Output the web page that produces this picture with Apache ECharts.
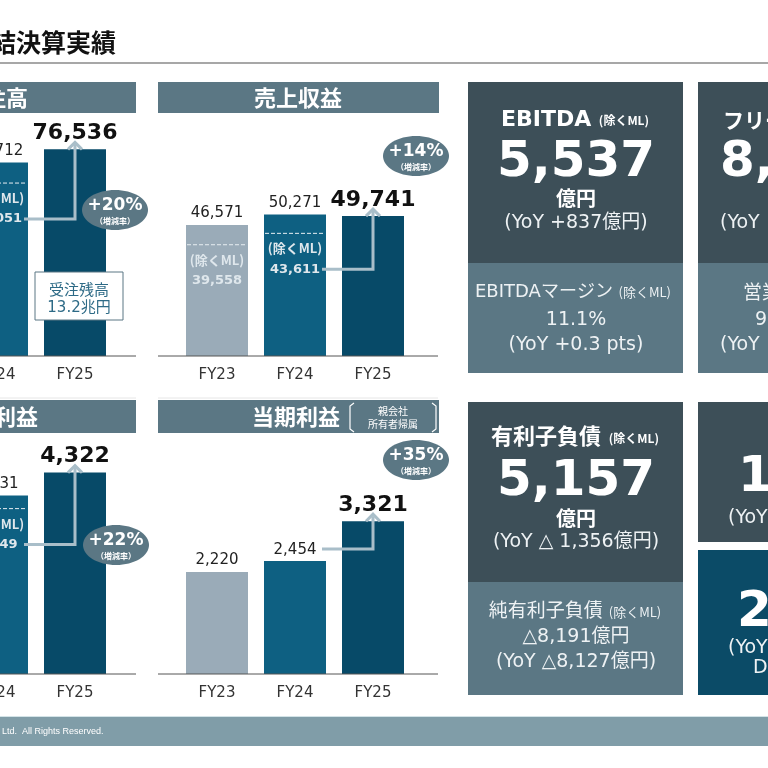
<!DOCTYPE html>
<html><head><meta charset="utf-8">
<script src="https://cdn.jsdelivr.net/npm/echarts@6/dist/echarts.min.js"></script>
<style>html,body{margin:0;padding:0;background:#fff}#c{width:768px;height:768px}</style>
</head><body><div id="c"></div>
<script>
// ---- data ----
const catsFull = ['FY23', 'FY24', 'FY25'];
const catsPart = ['FY24', 'FY25'];
const ordersVal = [71712, 76536];
const ordersExML = [64051, null];
const revenueVal = [46571, 50271, 49741];
const revenueExML = [39558, 43611, null];
const profitVal = [3831, 4322];
const profitExML = [3549, null];
const netVal = [2220, 2454, 3321];
const growthLabels = ['+20%', '+14%', '+22%', '+35%'];
const panelTitles = ['受注高', '売上収益', '事業利益', '当期利益'];
const backlogText = ['受注残高', '13.2兆円'];
const boxEbitda = ['EBITDA', '5,537', '億円', '(YoY +837億円)', 'EBITDAマージン', '11.1%', '(YoY +0.3 pts)'];
const boxDebt = ['有利子負債', '5,157', '億円', '(YoY △ 1,356億円)', '純有利子負債', '△8,191億円', '(YoY △8,127億円)'];

// ---- styles ----
const C = {
  fy23: '#9aabb8', fy24: '#0e6082', fy25: '#074a68',
  header: '#5b7784', dark: '#3d4f58', slate: '#5b7784', teal: '#0b4b67',
  arrow: '#a9bec9', text: '#222', light: '#eef2f4', footer: '#809da8'
};
const LAT = '"DejaVu Sans", "Noto Sans CJK JP", sans-serif';
const CJK = '"Noto Sans CJK JP", "DejaVu Sans", sans-serif';
const fmt = v => v.toLocaleString('en-US');
const barColors3 = [C.fy23, C.fy24, C.fy25];
const barColors2 = [C.fy24, C.fy25];

function barData(vals, colors) {
  return vals.map((v, i) => {
    const last = i === vals.length - 1;
    return {
      value: v, itemStyle: { color: colors[i] },
      label: last ? { fontSize: 22, fontWeight: 'bold', color: '#111', distance: 5 } : { fontSize: 15, color: C.text, distance: 4 }
    };
  });
}
function exData(arr) {
  const out = [];
  arr.forEach((v, i) => { if (v != null) out.push([i, v]); });
  return out;
}
function exItem(params, api) {
  const p = api.coord([api.value(0), api.value(1)]);
  const w = 62;
  return { type: 'group', children: [
    { type: 'line', shape: { x1: p[0] - w / 2 + 1, y1: p[1], x2: p[0] + w / 2 - 1, y2: p[1] },
      style: { stroke: '#e8eef2', lineWidth: 1, lineDash: [4, 2] } },
    { type: 'text', x: p[0], y: p[1] + 15, style: { text: '(除くML)', fill: '#dfe7ec', font: 'bold 13px ' + CJK, align: 'center', verticalAlign: 'middle', textAlign: 'center', textVerticalAlign: 'middle' } },
    { type: 'text', x: p[0], y: p[1] + 36, style: { text: fmt(api.value(1)), fill: '#dfe7ec', font: 'bold 13px ' + LAT, align: 'center', verticalAlign: 'middle', textAlign: 'center', textVerticalAlign: 'middle' } }
  ] };
}
function arrowItem(params, api) {
  const a = api.coord([api.value(0), api.value(1)]);
  const b = api.coord([api.value(2), api.value(3)]);
  const y = a[1] + api.value(4);
  const x0 = a[0] + 27, x1 = b[0], tip = b[1] - 7;
  return { type: 'group', children: [
    { type: 'polyline', shape: { points: [[x0, y], [x1, y], [x1, tip + 2]] }, style: { stroke: C.arrow, lineWidth: 3, fill: null } },
    { type: 'polyline', shape: { points: [[x1 - 7, tip + 7], [x1, tip], [x1 + 7, tip + 7]] }, style: { stroke: C.arrow, lineWidth: 3, fill: null } }
  ] };
}

const grids = [
  { left: -42, top: 113, width: 156, height: 243, outerBoundsMode: 'none', containLabel: false },
  { left: 178, top: 131, width: 234, height: 225, outerBoundsMode: 'none', containLabel: false },
  { left: -42, top: 441, width: 156, height: 233, outerBoundsMode: 'none', containLabel: false },
  { left: 178, top: 444, width: 234, height: 230, outerBoundsMode: 'none', containLabel: false }
];
const yMax = [90000, 80000, 5000, 5000];
const xCats = [catsPart, catsFull, catsPart, catsFull];

const series = [];
const panels = [
  { vals: ordersVal, ex: ordersExML, colors: barColors2, arrow: [0, ordersExML[0], 1, ordersVal[1], 36] },
  { vals: revenueVal, ex: revenueExML, colors: barColors3, arrow: [1, revenueExML[1], 2, revenueVal[2], 36] },
  { vals: profitVal, ex: profitExML, colors: barColors2, arrow: [0, profitExML[0], 1, profitVal[1], 36] },
  { vals: netVal, ex: null, colors: barColors3, arrow: [1, netVal[1], 2, netVal[2], -12] }
];
panels.forEach((p, g) => {
  series.push({ type: 'bar', xAxisIndex: g, yAxisIndex: g, barWidth: 62, data: barData(p.vals, p.colors),
    label: { show: true, position: 'top', fontFamily: LAT, formatter: d => fmt(d.value) }, silent: true, z: 2 });
  if (p.ex) series.push({ type: 'custom', xAxisIndex: g, yAxisIndex: g, data: exData(p.ex), renderItem: exItem, z: 3, silent: true });
  series.push({ type: 'custom', xAxisIndex: g, yAxisIndex: g, data: [p.arrow], renderItem: arrowItem, z: 4, silent: true });
});

function T(x, y, text, size, color, weight, align, fam) {
  return { type: 'text', x, y, z: 20, style: { text, fill: color, font: (weight || 'normal') + ' ' + size + 'px ' + (fam || LAT),
    align: align || 'center', verticalAlign: 'middle', textAlign: align || 'center', textVerticalAlign: 'middle' } };
}
function R(x, y, w, h, fill, stroke) {
  return { type: 'rect', z: 1, shape: { x, y, width: w, height: h }, style: { fill, stroke: stroke || null, lineWidth: stroke ? 1 : 0 } };
}
function L(x1, y1, x2, y2, color, w) {
  return { type: 'line', z: 5, shape: { x1, y1, x2, y2 }, style: { stroke: color, lineWidth: w || 1 } };
}
function badge(cx, cy, label) {
  return [
    { type: 'ellipse', z: 10, shape: { cx, cy, rx: 33, ry: 20 }, style: { fill: C.header } },
    T(cx, cy - 4, label, 17, '#fff', 'bold'),
    T(cx, cy + 11, '（増減率）', 8, '#fff', 'bold', 'center', CJK)
  ];
}
function rich(x, y, a, sa, sb, color, wa, wb) {
  return { type: 'text', x, y, z: 20, style: {
    text: '{a|' + a + '} {b|(除くML)}', align: 'center', verticalAlign: 'middle', textAlign: 'center', textVerticalAlign: 'middle',
    fill: color, font: wa + ' ' + sa + 'px ' + LAT,
    rich: { a: { fontSize: sa, fontWeight: wa, fontFamily: LAT, fill: color, color: color },
            b: { fontSize: sb, fontWeight: wb, fontFamily: CJK, fill: color, color: color } } } };
}

const graphic = [
  T(116, 42, '連結決算実績', 25, '#111', 'bold', 'right', CJK),
  L(0, 63, 768, 63, '#8a8a8a', 1.5),
  // headers
  R(-150, 82, 286, 31, C.header), R(158, 82, 281, 31, C.header),
  R(-150, 400, 286, 33, C.header), R(158, 400, 281, 33, C.header),
  T(-5, 98, panelTitles[0], 22, '#fff', 'bold', 'center', CJK),
  T(298, 98, panelTitles[1], 22, '#fff', 'bold', 'center', CJK),
  T(-6, 417, panelTitles[2], 22, '#fff', 'bold', 'center', CJK),
  T(252, 417, panelTitles[3], 22, '#fff', 'bold', 'left', CJK),
  T(393, 411, '親会社', 10, '#fff', 'normal', 'center', CJK),
  T(393, 424, '所有者帰属', 10, '#fff', 'normal', 'center', CJK),
  { type: 'polyline', z: 20, shape: { points: [[354, 403], [350, 406], [350, 429], [354, 432]] }, style: { stroke: '#fff', lineWidth: 1.2, fill: null } },
  { type: 'polyline', z: 20, shape: { points: [[432, 403], [436, 406], [436, 429], [432, 432]] }, style: { stroke: '#fff', lineWidth: 1.2, fill: null } },
  // axis base lines
  L(0, 356, 136, 356, '#555', 1), L(158, 356, 438, 356, '#555', 1),
  L(0, 674, 136, 674, '#555', 1), L(158, 674, 438, 674, '#555', 1),
  L(0, 398, 136, 398, '#e6e6e6', 1), L(158, 398, 438, 398, '#e6e6e6', 1),
  // backlog box
  { type: 'rect', z: 12, shape: { x: 35, y: 272, width: 88, height: 48 }, style: { fill: '#fff', stroke: C.header, lineWidth: 1 } },
  T(79, 289, backlogText[0], 15, '#2d6a86', 'normal', 'center', CJK),
  T(79, 308, backlogText[1], 15, '#2d6a86', 'normal', 'center', LAT),
  ...badge(115, 210, growthLabels[0]),
  ...badge(416, 156, growthLabels[1]),
  ...badge(116, 545, growthLabels[2]),
  ...badge(416, 460, growthLabels[3]),
  // right boxes
  R(468, 82, 215, 181, C.dark), R(468, 263, 215, 110, C.slate),
  R(698, 82, 90, 181, C.dark), R(698, 263, 90, 110, C.slate),
  R(468, 402, 215, 180, C.dark), R(468, 582, 215, 113, C.slate),
  R(698, 402, 90, 140, C.dark), R(698, 550, 90, 145, C.teal),
  rich(575, 120, boxEbitda[0], 22, 12, '#fff', 'bold', 'bold'),
  T(576, 163, boxEbitda[1], 50, '#fff', 'bold'),
  T(576, 198, boxEbitda[2], 20, '#fff', 'bold', 'center', CJK),
  T(576, 223, boxEbitda[3], 19, C.light),
  rich(573, 292, boxEbitda[4], 18, 13, C.light, 'normal', 'normal'),
  T(576, 320, boxEbitda[5], 19, C.light),
  T(576, 345, boxEbitda[6], 19, C.light),
  rich(575, 438, boxDebt[0], 22, 12, '#fff', 'bold', 'bold'),
  T(576, 482, boxDebt[1], 50, '#fff', 'bold'),
  T(576, 518, boxDebt[2], 20, '#fff', 'bold', 'center', CJK),
  T(576, 542, boxDebt[3], 19, C.light),
  rich(575, 612, boxDebt[4], 19, 13, C.light, 'normal', 'normal'),
  T(576, 637, boxDebt[5], 19, C.light),
  T(576, 662, boxDebt[6], 19, C.light),
  // partially visible right column
  T(723, 120, 'フリーキャッシュ・フロー', 21, '#fff', 'bold', 'left', CJK),
  T(720, 163, '8,', 50, '#fff', 'bold', 'left'),
  T(720, 223, '(YoY', 19, C.light, 'normal', 'left'),
  T(743, 292, '営業', 19, C.light, 'normal', 'left', CJK),
  T(755, 320, '9', 19, C.light, 'normal', 'left'),
  T(720, 345, '(YoY', 19, C.light, 'normal', 'left'),
  T(738, 478, '1', 50, '#fff', 'bold', 'left'),
  T(728, 518, '(YoY', 19, C.light, 'normal', 'left'),
  T(737, 613, '2', 50, '#fff', 'bold', 'left'),
  T(728, 648, '(YoY', 19, C.light, 'normal', 'left'),
  T(753, 668, 'D', 19, C.light, 'normal', 'left'),
  // footer
  R(0, 717, 768, 29, C.footer),
  L(0, 716.5, 768, 716.5, '#d3e3e7', 1),
  T(2, 732, 'Ltd.  All Rights Reserved.', 9, '#fff', 'normal', 'left', '"Liberation Sans Narrow", "Liberation Sans", sans-serif')
];

const chart = echarts.init(document.getElementById('c'), null, { renderer: 'canvas' });
chart.setOption({
  animation: false,
  backgroundColor: '#fff',
  grid: grids,
  xAxis: grids.map((g, i) => ({ type: 'category', gridIndex: i, data: xCats[i],
    axisLine: { show: false }, axisTick: { show: false },
    axisLabel: { color: '#333', fontSize: 15, margin: 12, fontFamily: LAT } })),
  yAxis: grids.map((g, i) => ({ type: 'value', gridIndex: i, min: 0, max: yMax[i], show: false, splitLine: { show: false } })),
  series,
  graphic
});
</script></body></html>
